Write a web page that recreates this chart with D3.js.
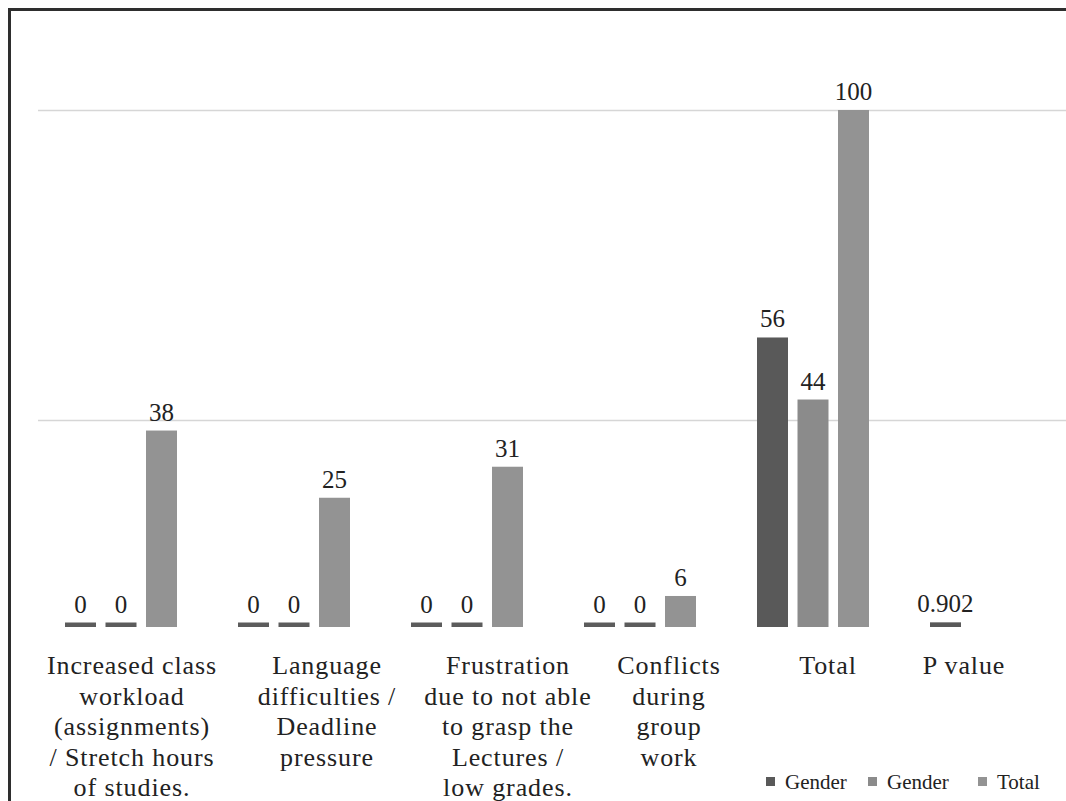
<!DOCTYPE html>
<html>
<head>
<meta charset="utf-8">
<script src="https://cdn.jsdelivr.net/npm/d3@7"></script>
<style>
  html, body { margin: 0; padding: 0; background: #ffffff; }
  svg { display: block; }
</style>
</head>
<body>
<svg id="chart" width="1066" height="801"></svg>
<script>
// Stress factors by gender, with totals and the chi-square P value
const categories = [
  ["Increased class", "workload", "(assignments)", "/ Stretch hours", "of studies."],
  ["Language", "difficulties /", "Deadline", "pressure"],
  ["Frustration", "due to not able", "to grasp the", "Lectures /", "low grades."],
  ["Conflicts", "during", "group", "work"],
  ["Total"],
  ["P value"]
];
const seriesNames = ["Gender", "Gender", "Total"];
const genderA = [0, 0, 0, 0, 56, 0.902];
const genderB = [0, 0, 0, 0, 44, null];
const totals  = [38, 25, 31, 6, 100, null];
const gridValues = [40, 100];

// layout
const labelShift = [11, 33, 41, 29, 15, -22];
const colors = ["#595959", "#8b8b8b", "#939393"];
const stubColor = "#5c5c5c";
const ink = "#222222";
const serif = '"Liberation Serif"';

const svg = d3.select("#chart");
const W = 1066, H = 801;

const series = [genderA, genderB, totals];
const catIdx = categories.map((_, i) => i);

const x0 = d3.scaleBand().domain(catIdx).range([34.5, 1072.5]).paddingInner(0).paddingOuter(0);
const x1 = d3.scaleBand().domain([0, 1, 2]).range([30.5, 142.5]).paddingInner(0.2346).paddingOuter(0);
const y = d3.scaleLinear().domain([0, 100]).range([627, 110]);

// frame (left and top edges)
svg.append("path")
  .attr("d", `M9.5,${H} L9.5,9.5 L${W},9.5`)
  .attr("fill", "none").attr("stroke", "#2e2e2e").attr("stroke-width", 3);

// gridlines
svg.append("g").selectAll("line").data(gridValues).join("line")
  .attr("x1", 38).attr("x2", W)
  .attr("y1", d => Math.round(y(d)) + 0.5).attr("y2", d => Math.round(y(d)) + 0.5)
  .attr("stroke", "#d6d6d6").attr("stroke-width", 1.5);

// bars
const cells = [];
series.forEach((vals, s) => vals.forEach((v, c) => {
  if (v !== null) cells.push({ s, c, v });
}));

const minH = 4.5;
svg.append("g").selectAll("rect").data(cells).join("rect")
  .attr("x", d => x0(d.c) + x1(d.s))
  .attr("width", x1.bandwidth())
  .attr("y", d => Math.min(y(d.v), y(0) - minH))
  .attr("height", d => Math.max(y(0) - y(d.v), minH))
  .attr("fill", d => (y(0) - y(d.v) < minH) ? stubColor : colors[d.s]);

// value labels
svg.append("g").selectAll("text").data(cells).join("text")
  .attr("x", d => x0(d.c) + x1(d.s) + x1.bandwidth() / 2)
  .attr("y", d => Math.min(y(d.v), y(0) - minH) - 10)
  .attr("text-anchor", "middle")
  .style("font-family", serif)
  .style("font-size", "25px")
  .attr("fill", ink)
  .text(d => d.v);

// category labels
const labG = svg.append("g");
categories.forEach((lines, c) => {
  const cx = x0(c) + x0.bandwidth() / 2 + labelShift[c];
  const t = labG.append("text")
    .attr("text-anchor", "middle")
    .style("font-family", serif)
    .style("font-size", "26px")
    .style("letter-spacing", "0.9px")
    .attr("fill", ink);
  lines.forEach((ln, i) => {
    t.append("tspan").attr("x", cx).attr("y", 674 + i * 30.6).text(ln);
  });
});

// legend
const legendX = [766, 868, 978];
const leg = svg.append("g");
seriesNames.forEach((name, i) => {
  leg.append("rect")
    .attr("x", legendX[i]).attr("y", 777)
    .attr("width", 9).attr("height", 9)
    .attr("fill", colors[i]);
  leg.append("text")
    .attr("x", legendX[i] + 19).attr("y", 789)
    .style("font-family", serif)
    .style("font-size", "21px")
    .attr("fill", ink)
    .text(name);
});
</script>
</body>
</html>
